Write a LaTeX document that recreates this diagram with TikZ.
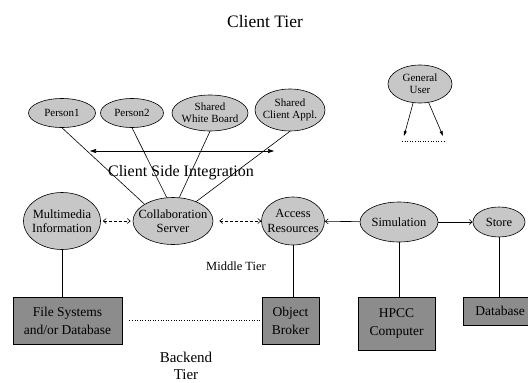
\documentclass[tikz,border=0pt]{standalone}
\usepackage{fontspec}
\setmainfont{Liberation Serif}
\usetikzlibrary{arrows.meta,shapes.geometric}

\begin{document}
\begin{tikzpicture}[
        x=1pt,y=-1pt,line width=0.6pt,
        client/.style={draw,ellipse,fill=black!22,inner xsep=-6pt,inner ysep=-2pt,align=center,font=\fontsize{11}{12}\selectfont},
        middle/.style={draw,ellipse,fill=black!22,inner xsep=-7pt,inner ysep=-2pt,align=center,font=\fontsize{12.5}{14.5}\selectfont},
        backend/.style={draw,rectangle,fill=black!45,inner sep=0pt,align=center,font=\fontsize{13.5}{18}\selectfont},
        tier/.style={align=center,inner sep=0pt},
        dasharrow/.style={densely dashed,{Straight Barb[length=3pt,width=5pt]}-{Straight Barb[length=3pt,width=5pt]}}
      ]
      \useasboundingbox (0,0) rectangle (528,383);
      \clip (0,0) rectangle (528,383);

      % client tier
      \node[tier,font=\fontsize{17.5}{20}\selectfont] (ctier) at (265,22) {Client Tier};
      \node[client,minimum width=67pt,minimum height=29pt] (pers1) at (62,113) {Person1};
      \node[client,minimum width=63pt,minimum height=29pt] (pers2) at (132,113) {Person2};
      \node[client,minimum width=76pt,minimum height=36pt] (board) at (210,113) {Shared\\White Board};
      \node[client,minimum width=70pt,minimum height=42pt] (appl) at (290,110) {Shared\\Client Appl.};
      \node[client,minimum width=64pt,minimum height=38pt] (guser) at (420,84) {General\\User};

      \coordinate (intl) at (90,151);
      \coordinate (intr) at (274,151);
      \coordinate (gul) at (404,136);
      \coordinate (gur) at (443,136);
      \coordinate (dotl) at (402,141);
      \coordinate (dotr) at (444,141);
      \node[tier,font=\fontsize{16}{18}\selectfont] (csi) at (181,173) {Client Side Integration};

      % middle tier
      \node[middle,minimum width=77pt,minimum height=57pt] (mmi) at (62,221) {Multimedia\\Information};
      \node[middle,minimum width=80pt,minimum height=47pt] (collab) at (173,221) {Collaboration\\Server};
      \node[middle,minimum width=63pt,minimum height=48pt] (access) at (293,221) {Access\\Resources};
      \node[middle,minimum width=78pt,minimum height=40pt] (sim) at (399,222) {Simulation};
      \node[middle,minimum width=52pt,minimum height=30pt] (store) at (499,222) {Store};
      \node[tier,font=\fontsize{12.5}{14}\selectfont] (mtier) at (236,266) {Middle Tier};

      % backend tier
      \node[backend,minimum width=109pt,minimum height=47pt] (fsys) at (67.5,320.5) {File Systems\\and/or Database};
      \node[backend,minimum width=57pt,minimum height=47pt] (broker) at (290.5,320.5) {Object\\Broker};
      \node[backend,minimum width=77pt,minimum height=53pt] (hpcc) at (396.5,323.5) {HPCC\\Computer};
      \node[backend,minimum width=74pt,minimum height=28pt] (dbase) at (500,311) {Database};
      \node[tier,font=\fontsize{15}{17}\selectfont] (btier) at (186,366) {Backend\\Tier};

      \draw (pers1.south) -- (collab.north west);
      \draw (pers2.south) -- (collab.105);
      \draw (board.south) -- (collab.75);
      \draw (appl.south) -- (collab.40);
      \draw[{Triangle[length=6pt,width=4pt]}-{Triangle[length=6pt,width=4pt]}] (intl) -- (intr);
      \draw[-{Triangle[length=5pt,width=3pt]}] (guser.250) -- (gul);
      \draw[-{Triangle[length=5pt,width=3pt]}] (guser.295) -- (gur);
      \draw[dotted] (dotl) -- (dotr);

      \draw[dasharrow,shorten <=2pt,shorten >=2pt] (mmi) -- (collab);
      \draw[dasharrow,shorten <=6pt] (collab) -- (access);
      \draw[-{Straight Barb[length=3pt,width=5pt]}] (sim) -- (access);
      \draw[-{Straight Barb[length=3pt,width=5pt]}] (sim) -- (store);

      \draw (mmi.south) -- (mmi.south |- fsys.north);
      \draw (access.south) -- (access.south |- broker.north);
      \draw (sim.south) -- (sim.south |- hpcc.north);
      \draw (store.south) -- (store.south |- dbase.north);
      \draw[dotted,shorten <=7pt] (fsys.east) -- (broker.west);
    \end{tikzpicture}
\end{document}
